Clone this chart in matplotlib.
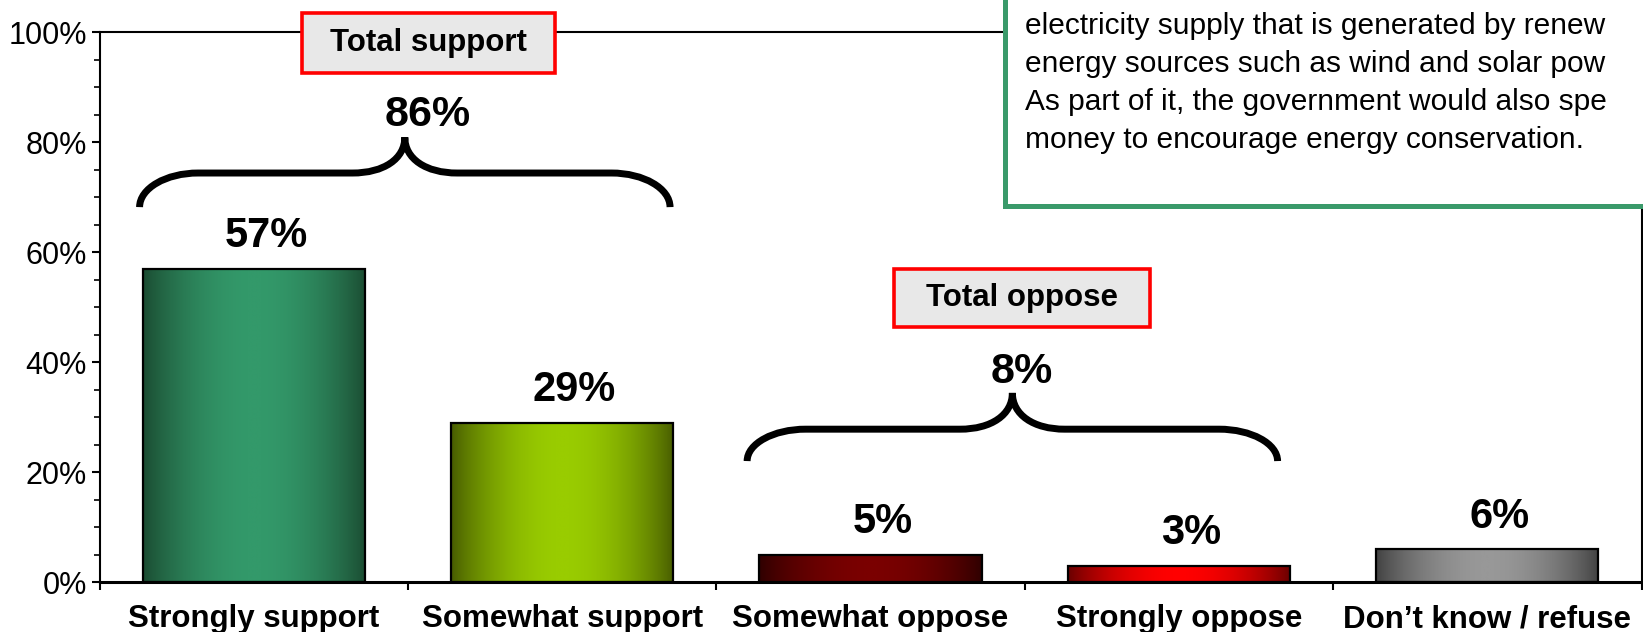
import numpy as np
import matplotlib
matplotlib.use("Agg")
import matplotlib.pyplot as plt
from matplotlib.colors import LinearSegmentedColormap
from matplotlib.patches import Rectangle, PathPatch
from matplotlib.path import Path

plt.rcParams['font.family'] = ['Liberation Sans', 'DejaVu Sans']

# data
categories = ["Strongly support", "Somewhat support", "Somewhat oppose",
              "Strongly oppose", "Don\u2019t know / refuse"]
values = [57, 29, 5, 3, 6]
bar_labels = ["57%", "29%", "5%", "3%", "6%"]
edge_colors = ["#1A4A30", "#465A00", "#2E0000", "#660000", "#404040"]
mid_colors = ["#33996A", "#99CC00", "#7A0000", "#FF0000", "#989898"]

total_support = "86%"
total_oppose = "8%"
# the question box runs off the edge of the slide, only this much is visible
question_lines = [
    "electricity supply that is generated by renew",
    "energy sources such as wind and solar pow",
    "As part of it, the government would also spe",
    "money to encourage energy conservation.",
]

W, H = 1643, 632
fig = plt.figure(figsize=(W / 100, H / 100), dpi=100)
ax = fig.add_axes([99.5 / W, 1 - 582 / H, 1542 / W, 549.7 / H])

x = np.arange(len(categories))
bars = ax.bar(x, values, width=0.72, facecolor="none", edgecolor="black",
              linewidth=1.6, zorder=3)

# horizontal gradient inside each bar
grad = np.sin(np.pi * np.linspace(0, 1, 256)) ** 0.8
for b, c0, c1 in zip(bars, edge_colors, mid_colors):
    cmap = LinearSegmentedColormap.from_list("g", [c0, c1])
    im = ax.imshow(grad[np.newaxis, :], cmap=cmap, vmin=0, vmax=1,
                   extent=[b.get_x(), b.get_x() + b.get_width(), 0, b.get_height()],
                   aspect="auto", zorder=2, interpolation="bilinear")
    im.set_clip_path(b)

for b, lab in zip(bars, bar_labels):
    ax.annotate(lab, (b.get_x() + b.get_width() / 2 + 0.04, b.get_height()),
                xytext=(0, 9), textcoords="offset points", ha="center", va="bottom",
                fontsize=30, fontweight="bold", zorder=5)

ax.set_xlim(-0.5, len(categories) - 0.5)
ax.set_ylim(0, 100)

ax.set_xticks(np.arange(-0.5, len(categories) + 0.5, 1))
ax.set_xticklabels([])
ax.set_xticks(x, minor=True)
ax.set_xticklabels(categories, minor=True, fontsize=22.5, fontweight="bold")
ax.tick_params(axis="x", which="major", length=6, width=1.5, direction="out")
ax.tick_params(axis="x", which="minor", length=0, pad=16)

ax.set_yticks(np.arange(0, 101, 20))
ax.set_yticklabels([f"{v}%" for v in range(0, 101, 20)], fontsize=22)
ax.set_yticks(np.arange(0, 101, 5), minor=True)
ax.tick_params(axis="y", which="major", length=6, width=1.5, pad=3)
ax.tick_params(axis="y", which="minor", length=4, width=1.2)
for s in ax.spines.values():
    s.set_linewidth(1.5)
ax.spines["bottom"].set_linewidth(2.2)


def brace(x0, x1, y_tip, y_flat, y_peak, rx=0.19, rxm=0.17):
    mid = (x0 + x1) / 2
    k = 0.55
    verts = [
        (x0, y_tip),
        (x0, y_tip + k * (y_flat - y_tip)), (x0 + rx * (1 - k), y_flat), (x0 + rx, y_flat),
        (mid - rxm, y_flat),
        (mid - rxm * 0.4, y_flat), (mid, y_flat + 0.4 * (y_peak - y_flat)), (mid, y_peak),
        (mid, y_flat + 0.4 * (y_peak - y_flat)), (mid + rxm * 0.4, y_flat), (mid + rxm, y_flat),
        (x1 - rx, y_flat),
        (x1 - rx * (1 - k), y_flat), (x1, y_tip + k * (y_flat - y_tip)), (x1, y_tip),
    ]
    codes = [Path.MOVETO, Path.CURVE4, Path.CURVE4, Path.CURVE4, Path.LINETO,
             Path.CURVE4, Path.CURVE4, Path.CURVE4, Path.CURVE4, Path.CURVE4, Path.CURVE4,
             Path.LINETO, Path.CURVE4, Path.CURVE4, Path.CURVE4]
    ax.add_patch(PathPatch(Path(verts, codes), facecolor="none", edgecolor="black",
                           linewidth=5, capstyle="butt", clip_on=False, zorder=4))


brace(bars[0].get_x() - 0.01, bars[1].get_x() + bars[1].get_width() - 0.01, 68.2, 74.4, 80.9)
brace(bars[2].get_x() - 0.04, bars[3].get_x() + bars[3].get_width() - 0.04, 22.0, 27.8, 34.4)

ax.text(0.565, 84.9, total_support, ha="center", va="center", fontsize=31,
        fontweight="bold", zorder=5)
ax.text(2.49, 38.2, total_oppose, ha="center", va="center", fontsize=31,
        fontweight="bold", zorder=5)


def label_box(cx, cy, w, h, text):
    ax.add_patch(Rectangle((cx - w / 2, cy - h / 2), w, h, facecolor="#E8E8E8",
                           edgecolor="#FF0000", linewidth=2.6, clip_on=False, zorder=6))
    ax.text(cx, cy, text, ha="center", va="center", fontsize=22.5, fontweight="bold",
            zorder=7, clip_on=False)


label_box(0.567, 98.1, 0.82, 10.9, "Total support")
label_box(2.491, 51.6, 0.83, 10.6, "Total oppose")

# question box, cut off at top right
fig.add_artist(Rectangle((1004.6 / W, 1 - 206 / H), 0.6, 0.6, transform=fig.transFigure,
                         facecolor="white", edgecolor="#3A9A6A", linewidth=3.6, zorder=8))
for i, line in enumerate(question_lines):
    fig.text(1025 / W, 1 - (34 + 38 * i) / H, line, ha="left", va="baseline",
             fontsize=21.5, zorder=9)

fig.savefig("out.png", dpi=100, facecolor="white")
